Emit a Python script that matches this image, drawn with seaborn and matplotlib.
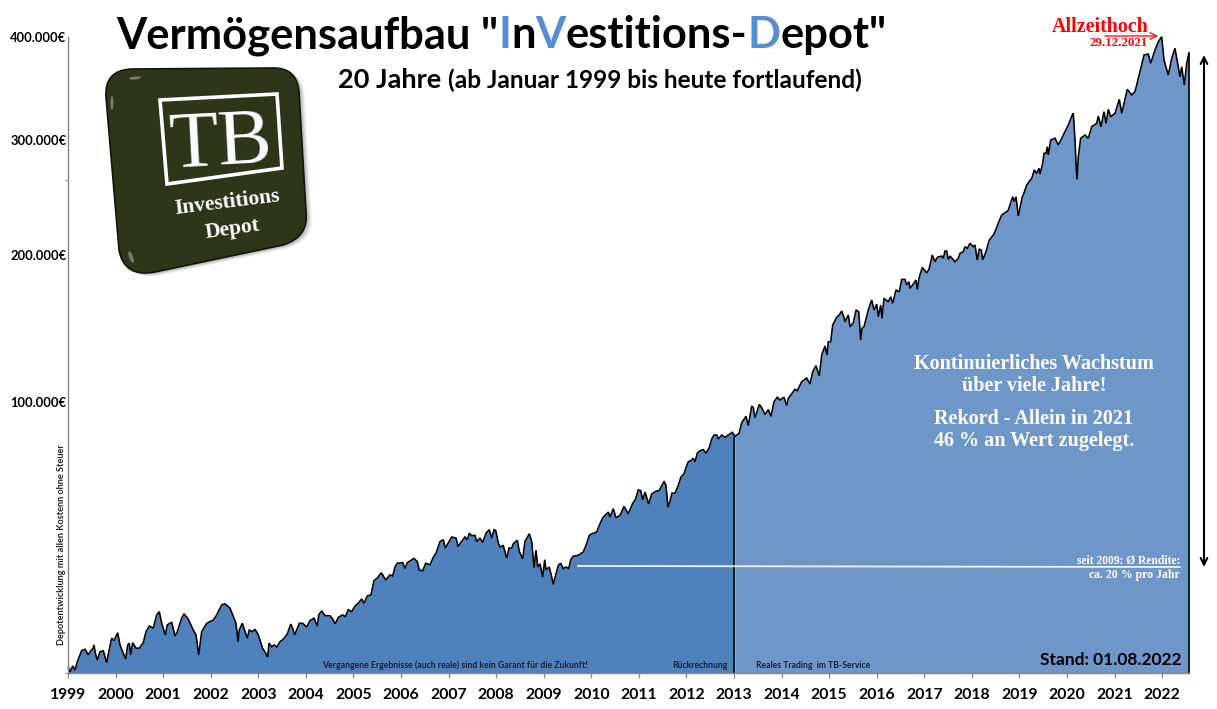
import numpy as np
import pandas as pd
import seaborn as sns
import matplotlib.pyplot as plt
from matplotlib.path import Path
from matplotlib.patches import PathPatch, Ellipse, Polygon

# chart steps since Jan 1999, 47.57 steps make one year on the axis
steps = [0.3, 2, 4.7, 7, 9.3, 13.7, 17, 20.3, 22.7, 24.7, 26, 27.3, 29.3, 32, 35.3, 38.7, 41.3, 43.7, 46, 49.7,
         52, 55.3, 57.7, 59.7, 61.3, 62.7, 64.7, 68, 71.3, 75.3, 78, 81.3, 85.3, 88.7, 91.3, 93.7, 97.3, 99.3, 103.7, 107,
         109.3, 113.7, 116, 120.3, 125.3, 128, 130.7, 133.7, 138.7, 145.3, 148.7, 153.7, 157, 162, 165.3, 168, 170, 171.3, 174.3, 176.3,
         179.3, 181.3, 184.7, 187, 190.3, 194.7, 197, 199.7, 201, 203.7, 206, 208.7, 212, 215.3, 219.3, 222.7, 224.7, 226.7, 231.3, 234.7,
         238.7, 242, 246, 249.3, 250.7, 253.7, 257, 262, 264.7, 267.3, 270.3, 274.7, 277.3, 280.3, 283.7, 287, 290.3, 293.7, 296, 299.3,
         303, 306, 309.3, 313.3, 317.7, 322, 324.7, 327, 329.3, 334.7, 337, 339.3, 346, 349.3, 351.3, 354.7, 357.7, 362, 365.3, 368,
         372, 375.3, 377.3, 380.3, 383.7, 388, 390, 393.7, 397, 399.3, 401.3, 403.7, 407, 408.7, 412, 414.7, 418, 421.3, 423.7, 426,
         427.7, 430.3, 432, 435.3, 438.7, 441, 443.7, 445.3, 449.3, 451.3, 454.7, 457, 461.3, 463.7, 466, 468, 469.7, 472, 474.7, 476.7,
         478, 481.3, 483.7, 485.3, 488, 490.3, 492.7, 495.3, 498, 500.7, 502.7, 505.3, 510.3, 515.3, 518, 521.3, 523.7, 528.7, 531.3, 534.7,
         538.7, 540.3, 542, 545.3, 548, 552, 556, 560.3, 564.7, 567, 570.3, 572.7, 574.7, 577, 580.7, 583.7, 588, 591.3, 596, 598,
         600, 602, 604, 607, 610, 613, 616, 618, 620.3, 622.7, 625.3, 627, 629.3, 632, 635.3, 638, 641.3, 643.7, 646, 648.7,
         650.3, 653.7, 657, 660.3, 664.3, 667, 671, 673.7, 678, 680.3, 683.7, 685.3, 687, 688.7, 691.3, 693.7, 697, 700.3, 703, 706,
         709.3, 712, 716, 718.7, 720.3, 725.3, 727, 729.3, 733.7, 738.7, 742, 744.7, 748, 751.3, 753.7, 757, 759, 760.3, 762.7, 764.7,
         768.7, 771.3, 773.7, 776, 777, 780.3, 782, 785.3, 788, 790.7, 792.7, 794, 796, 800.3, 803.7, 806, 808.7, 810.3, 812.7, 814,
         816, 820.3, 822.7, 824.7, 828, 831.3, 833.7, 837, 838.7, 841, 842, 845.3, 848, 849.3, 851.3, 854.3, 858.7, 861, 864.3, 867,
         869.3, 873.7, 875.3, 877, 878.7, 880.3, 882, 887, 890.3, 892, 895.3, 897, 899.3, 902, 905.3, 907, 909.3, 911.3, 913.3, 914.7,
         918, 921.3, 925.3, 927, 930.3, 933.7, 938.7, 940.3, 942, 944.7, 946.3, 948, 950.3, 954.3, 955.3, 958.7, 963.7, 966.3, 968.7, 971,
         972, 974.7, 976, 978, 979.3, 980.3, 982.7, 987, 990.3, 993.7, 1000.3, 1004.3, 1005.3, 1007, 1008, 1009, 1010.3, 1012.7, 1017, 1020.3,
         1023.7, 1028.7, 1030.3, 1033, 1036, 1038, 1040.3, 1042.7, 1047, 1051.3, 1053.7, 1059.3, 1063.7, 1067, 1072, 1076, 1080.3, 1082.7, 1087, 1090.3,
         1093.7, 1096, 1100.3, 1103.7, 1107, 1112, 1113.7, 1116.3, 1118.7, 1121]

# depot value in thousand euro
depot = [2.0, 0.2, 2.4, 0.9, 4.0, 8.1, 8.6, 6.5, 8.0, 8.7, 10.2, 7.2, 4.6, 7.7, 8.0, 3.6, 8.6, 12.7, 11.8, 14.7,
         10.2, 7.1, 5.0, 10.2, 10.8, 6.5, 11.0, 9.0, 9.0, 11.0, 15.1, 17.2, 16.4, 21.3, 22.5, 18.2, 13.9, 17.6, 18.6, 13.5,
         15.1, 20.1, 21.7, 19.7, 15.7, 13.9, 6.5, 15.1, 18.2, 19.4, 21.3, 25.0, 25.4, 23.8, 20.7, 18.2, 11.4, 15.7, 18.2, 16.0,
         12.7, 15.7, 15.1, 16.0, 13.9, 8.9, 7.6, 5.7, 10.9, 9.5, 10.2, 9.4, 11.4, 12.3, 14.2, 17.9, 16.3, 13.9, 18.2, 18.2,
         16.8, 19.2, 20.1, 17.2, 21.3, 22.8, 21.0, 21.0, 19.7, 18.0, 20.4, 21.3, 20.7, 23.2, 22.5, 24.6, 25.6, 27.2, 25.6, 28.3,
         28.7, 34.0, 34.9, 36.9, 34.2, 36.1, 35.7, 39.1, 40.4, 40.6, 38.5, 40.6, 42.2, 41.0, 37.9, 37.6, 40.4, 39.8, 42.6, 44.1,
         48.4, 49.1, 46.0, 47.9, 50.1, 49.7, 46.6, 48.5, 50.1, 49.1, 51.5, 50.6, 50.7, 48.4, 49.7, 48.1, 51.5, 52.8, 49.7, 52.8,
         52.5, 47.9, 46.4, 46.9, 42.3, 46.0, 46.0, 47.6, 48.9, 44.8, 42.0, 48.5, 51.3, 48.5, 38.8, 45.2, 39.0, 40.2, 35.3, 41.7,
         38.0, 39.0, 35.3, 32.6, 36.5, 39.6, 40.4, 38.4, 39.0, 38.4, 41.7, 43.0, 43.3, 44.6, 47.0, 50.7, 51.3, 51.9, 54.4, 57.2,
         58.7, 59.3, 57.5, 60.6, 57.2, 58.1, 61.4, 58.7, 62.6, 63.6, 67.5, 67.3, 63.8, 66.7, 62.3, 66.0, 67.0, 67.3, 70.7, 69.1,
         61.1, 63.3, 66.3, 66.3, 68.9, 72.3, 73.4, 75.8, 77.9, 78.3, 79.2, 77.9, 81.1, 82.0, 82.4, 81.1, 83.2, 86.3, 87.8, 87.8,
         86.3, 87.8, 86.9, 87.8, 88.8, 87.3, 88.4, 92.3, 94.7, 91.3, 98.5, 97.9, 94.2, 96.0, 99.1, 97.9, 95.4, 97.2, 94.7, 100.2,
         103.2, 101.4, 103.2, 98.7, 102.5, 107.0, 108.6, 107.7, 113.8, 116.3, 112.2, 120.6, 124.7, 117.7, 132.0, 138.1, 132.0, 141.0, 141.0, 152.4,
         157.6, 159.2, 161.9, 157.6, 154.6, 159.2, 151.2, 153.9, 162.6, 161.4, 142.2, 150.1, 151.2, 162.6, 169.4, 162.6, 166.6, 158.0, 166.0, 156.9,
         170.5, 168.2, 171.6, 167.1, 176.2, 175.0, 183.4, 183.4, 179.6, 181.8, 177.3, 180.2, 183.0, 176.6, 185.1, 191.5, 187.9, 190.2, 200.0, 195.4,
         198.4, 199.3, 197.7, 203.5, 203.5, 196.8, 199.3, 195.4, 197.7, 201.5, 202.9, 207.2, 205.8, 210.2, 207.2, 208.7, 196.6, 205.0, 204.3, 196.6,
         202.9, 213.0, 217.4, 220.3, 227.6, 234.8, 237.7, 239.1, 243.5, 250.7, 246.3, 250.7, 233.9, 250.7, 252.2, 260.9, 266.7, 273.9, 271.0, 275.4,
         270.4, 279.7, 288.4, 288.4, 294.2, 287.0, 300.0, 301.7, 295.7, 301.7, 314.6, 324.3, 325.9, 300.0, 279.7, 265.8, 285.5, 301.7, 304.9, 301.7,
         312.9, 316.2, 323.3, 312.9, 327.5, 316.2, 329.8, 322.6, 325.9, 339.5, 325.9, 349.2, 343.7, 346.9, 366.3, 382.5, 383.5, 374.5, 387.4, 395.4,
         400.3, 377.7, 363.1, 379.3, 389.0, 361.4, 371.1, 353.4, 374.5, 384.9]

years = list(range(1999, 2023))
steps_per_year = 47.57
y_ticks = [100, 200, 300, 400]
y_labels = ['100.000€', '200.000€', '300.000€', '400.000€']
real_start = 667

W, H = 1217, 709
x0, y0 = 68, 672.5

# the y axis of the original is squeezed towards the top
val_knots = [0, 100, 200, 300, 400, 500]
pos_knots = [0, 270.5, 417.5, 532.5, 635.5, 735.5]


def to_pos(v):
    return np.interp(v, val_knots, pos_knots)


def from_pos(p):
    return np.interp(p, pos_knots, val_knots)


sns.set_theme(style='white')
plt.rcParams['font.family'] = ['Lato', 'DejaVu Sans']

df = pd.DataFrame({'step': steps, 'depot': depot})

fig = plt.figure(figsize=(W / 100, H / 100), dpi=100, facecolor='white')
ax = fig.add_axes([x0 / W, (H - y0) / H, steps[-1] / W, 635.5 / H])
ax.set_yscale('function', functions=(to_pos, from_pos))

ax.fill_between(df['step'], 0, df['depot'], where=df['step'] <= real_start, color='#4F81BD', lw=0)
ax.fill_between(df['step'], 0, df['depot'], where=df['step'] >= real_start, color='#6F96C8', lw=0)
sns.lineplot(data=df, x='step', y='depot', color='black', lw=1.15, estimator=None, sort=False, ax=ax,
             clip_on=False, solid_joinstyle='miter')
ax.vlines(real_start - 0.7, 0, 87, color='black', lw=1.1)
ax.vlines(steps[-1], 0, depot[-1], color='black', lw=1.2, clip_on=False)

ax.set_xlim(0, steps[-1])
ax.set_ylim(0, 400)
ax.set_xlabel('')
ax.set_ylabel('')
ax.set_xticks([(y - 1999) * steps_per_year for y in years])
ax.set_xticklabels(years, fontsize=11.3, fontweight='bold', color='black')
ax.set_yticks(y_ticks)
ax.set_yticklabels(y_labels, fontsize=9.3, fontweight='bold', color='black')
ax.set_yticks([0, 265], minor=True)
ax.tick_params(axis='x', length=3.5, width=0.9, color='#868686', pad=8, bottom=True)
ax.tick_params(axis='y', which='major', length=0, pad=1.2)
ax.tick_params(axis='y', which='minor', length=2, width=0.7, color='#868686', left=True)
for side in ['top', 'right']:
    ax.spines[side].set_visible(False)
for side in ['left', 'bottom']:
    ax.spines[side].set_color('#868686')
    ax.spines[side].set_linewidth(1)

# overlay in pixel coordinates for logo and notes
ov = fig.add_axes([0, 0, 1, 1], facecolor='none')
ov.set_xlim(0, W)
ov.set_ylim(H, 0)
ov.axis('off')


def runs(x, y, parts):
    rend = fig.canvas.get_renderer()
    for txt, size, col in parts:
        t = ov.text(x, y, txt, fontsize=size, color=col, fontweight='bold', va='baseline', ha='left')
        x += t.get_window_extent(rend).width


blue = '#558ED5'
runs(116, 48, [('Vermögensaufbau "', 31.3, 'black'), ('I', 31.3, blue), ('n', 31.3, 'black'), ('V', 31.3, blue),
               ('estitions-', 31.3, 'black'), ('D', 31.3, blue), ('epot"', 31.3, 'black')])
runs(338, 88, [('20 Jahre ', 19.5, 'black'), ('(ab Januar 1999 bis heute fortlaufend)', 17.6, 'black')])

# logo
logo_verts = [(132, 69), (272, 68), (297, 67), (299, 92), (306, 212), (309, 237), (283, 245),
              (155, 272), (124, 278), (119, 250), (106, 97), (104, 70), (132, 69)]
logo_codes = [Path.MOVETO, Path.LINETO, Path.CURVE3, Path.CURVE3, Path.LINETO, Path.CURVE3, Path.CURVE3,
              Path.LINETO, Path.CURVE3, Path.CURVE3, Path.LINETO, Path.CURVE3, Path.CURVE3]
for off, a in [(6, 0.05), (5, 0.07), (4, 0.09), (3, 0.12), (2, 0.15)]:
    shadow = [(x + off, y + off * 0.6) for x, y in logo_verts]
    ov.add_patch(PathPatch(Path(shadow, logo_codes), fc='#555555', ec='none', alpha=a))
ov.add_patch(PathPatch(Path(logo_verts, logo_codes), fc='#2D3618', ec='#11160a', lw=1.2))
for cx, cy, w, h, ang in [(135, 78, 12, 3, -5), (112, 103, 3, 14, 0), (131, 257, 4, 12, -20)]:
    ov.add_patch(Ellipse((cx, cy), w, h, angle=ang, fc='white', ec='none', alpha=0.35))
ov.add_patch(Polygon([(160, 100), (277, 94), (282, 168), (167, 184)], closed=True, fc='none', ec='white', lw=2.6))
ov.text(221, 145, 'TB', family='Liberation Serif', fontsize=58, color='white', rotation=3, ha='center', va='center')
ov.text(227, 203, 'Investitions', family='Liberation Serif', fontweight='bold', fontsize=15.5, color='white',
        rotation=7, ha='center', va='center')
ov.text(232, 229, 'Depot', family='Liberation Serif', fontweight='bold', fontsize=15.5, color='white',
        rotation=8, ha='center', va='center')

# notes on the chart
ov.text(1100, 27, 'Allzeithoch', family='Liberation Serif', fontweight='bold', fontsize=14.4, color='red', ha='center', va='center')
ov.text(1148, 43.5, '29.12.2021', family='Liberation Serif', fontweight='bold', fontsize=9.3, color='red', ha='right', va='center')
ov.annotate('', xy=(1158, 36), xytext=(1105, 36), arrowprops=dict(arrowstyle='->', color='red', lw=0.9, shrinkA=0, shrinkB=0))
ov.annotate('', xy=(1204, 55), xytext=(1204, 567), arrowprops=dict(arrowstyle='<->', color='black', lw=1.5, shrinkA=0, shrinkB=0))
ov.plot([578, 1180], [566, 567], color='white', lw=1.3, alpha=0.9)

for yy, line in [(364, 'Kontinuierliches Wachstum'), (386, 'über viele Jahre!'),
                 (419, 'Rekord - Allein in 2021'), (441, '46 % an Wert zugelegt.')]:
    ov.text(1034, yy, line, family='Liberation Serif', fontweight='bold', fontsize=14.5, color='white', ha='center', va='center')
ov.text(1180, 561, 'seit 2009: Ø Rendite:', family='Liberation Serif', fontweight='bold', fontsize=8.3, color='white', ha='right', va='center')
ov.text(1180, 575, 'ca. 20 % pro Jahr', family='Liberation Serif', fontweight='bold', fontsize=8.5, color='white', ha='right', va='center')

ov.text(322, 665, 'Vergangene Ergebnisse (auch reale) sind kein Garant für die Zukunft!', fontsize=6.3, fontweight='bold', color='#14233a', va='center')
ov.text(672, 665, 'Rückrechnung', fontsize=6.3, fontweight='bold', color='#14233a', va='center')
ov.text(756, 665, 'Reales Trading  im TB-Service', fontsize=6.2, fontweight='bold', color='#14233a', va='center')
ov.text(1181, 660, 'Stand: 01.08.2022', fontsize=12.5, fontweight='bold', color='black', ha='right', va='center')
ov.text(61.5, 545, 'Depotentwicklung mit allen Kostenn ohne Steuer', fontsize=6.6, fontweight='bold', color='#222222',
        rotation=90, ha='center', va='center')

fig.savefig('out.png', dpi=100)
